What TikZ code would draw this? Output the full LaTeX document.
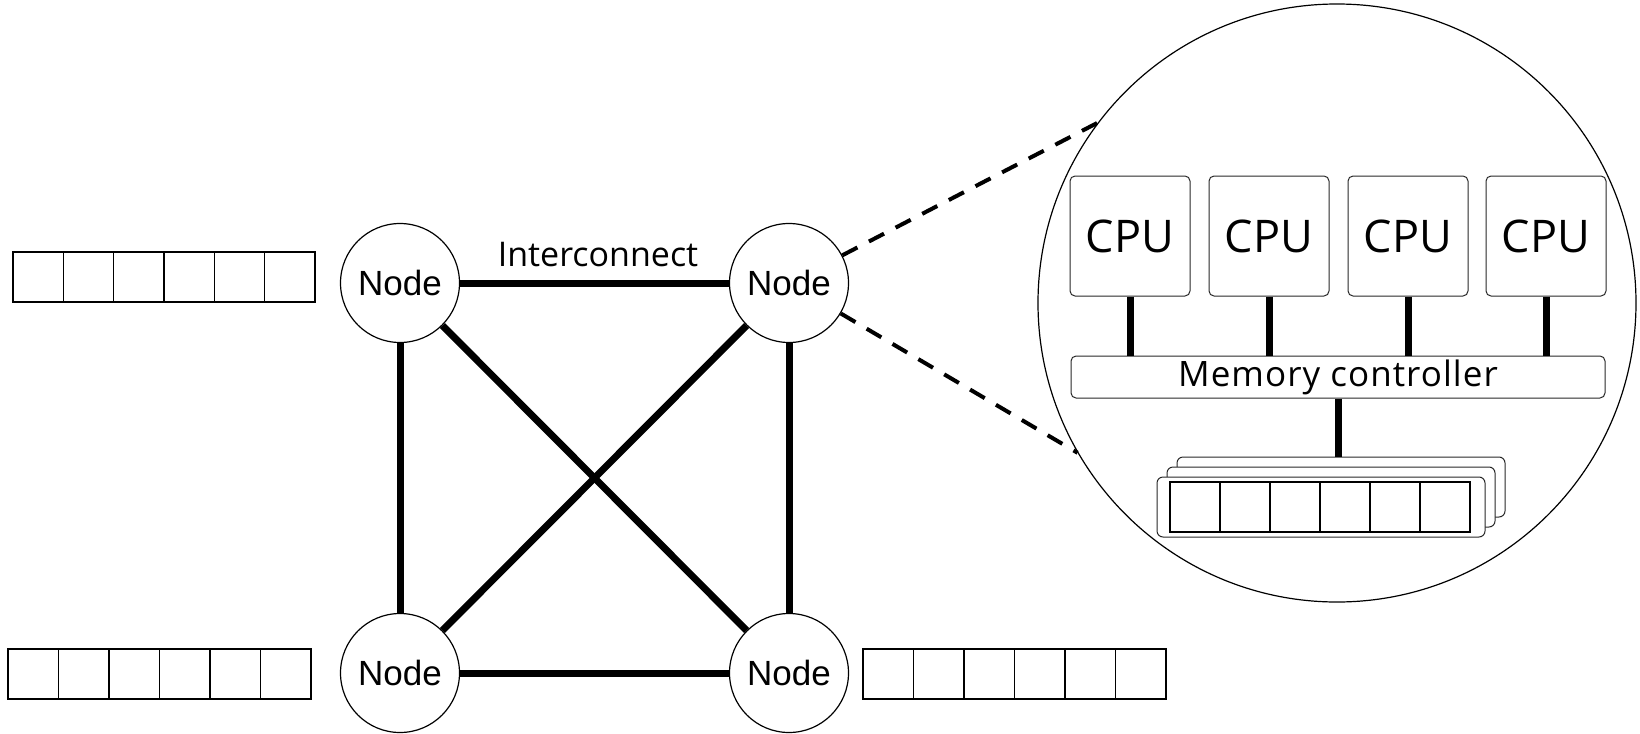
\documentclass[tikz,border=0pt]{standalone}
\usepackage{fontspec}
\setmainfont{Open Sans}
\newfontfamily\nodefont{Liberation Sans}
\usepackage{tikz}
\usetikzlibrary{
  positioning,
  calc
}
\definecolor{inkblack}{RGB}{0,0,0}
\definecolor{boxgray}{RGB}{40,40,40}
\tikzset{
  pcnode/.style={circle,draw=inkblack,line width=0.6pt,minimum size=59.5pt,inner sep=0pt,
    font=\nodefont\fontsize{17.5}{20}\selectfont},
  link/.style={inkblack,line width=3.5pt},
  zoomline/.style={inkblack,line width=2pt,dash pattern=on 8.5pt off 6.5pt},
  cpubox/.style={draw=boxgray,line width=0.5pt,rounded corners=2.5pt,minimum width=60pt,
    minimum height=60pt,inner sep=0pt,font=\fontsize{22.5}{26}\selectfont},
  mcbox/.style={draw=boxgray,line width=0.5pt,rounded corners=2.5pt,minimum width=267pt,
    minimum height=21pt,inner sep=0pt,font=\fontsize{17.5}{20}\selectfont\addfontfeatures{LetterSpace=3}},
  stackbox/.style={draw=boxgray,fill=white,line width=0.5pt,rounded corners=3pt,
    minimum width=164pt,minimum height=30pt,inner sep=0pt},
  cellline/.style={draw=inkblack,line width=0.7pt}
}
\newcommand{\cellrow}[3]{%
  \foreach \k in {0,...,5}{%
    \draw[cellline] (#1+\k*#3,#2) rectangle ++(#3,50);%
  }%
}

\begin{document}
\begin{tikzpicture}[x=0.5pt,y=-0.5pt]
  \useasboundingbox (0,0) rectangle (1640,734);
  \node[pcnode] (nTL) at (400,283) {Node};
  \node[pcnode] (nTR) at (789,283) {Node};
  \node[pcnode] (nBL) at (400,673) {Node};
  \node[pcnode] (nBR) at (789,673) {Node};
  \node[font=\fontsize{17}{20}\selectfont] (ilabel) at (598,255) {Interconnect};
  \draw[link] (nTL) -- (nTR);
  \draw[link] (nBL) -- (nBR);
  \draw[link] (nTL) -- (nBL);
  \draw[link] (nTR) -- (nBR);
  \draw[link] (nTL) -- (nBR);
  \draw[link] (nTR) -- (nBL);
  \cellrow{13}{252}{50.3}
  \cellrow{8}{649}{50.5}
  \cellrow{863}{649}{50.5}
  \node[circle,draw=inkblack,line width=0.6pt,minimum size=299pt,inner sep=0pt] (zoom) at (1337,303) {};
  \draw[zoomline] (nTR) -- (zoom.143.5);
  \draw[zoomline] (nTR) -- (zoom.210);
  \node[cpubox] (cpu1) at (1130,236) {CPU};
  \node[cpubox] (cpu2) at (1269,236) {CPU};
  \node[cpubox] (cpu3) at (1408,236) {CPU};
  \node[cpubox] (cpu4) at (1546,236) {CPU};
  \node[mcbox] (mc) at (1338,377) {Memory controller};
  \foreach \c in {cpu1,cpu2,cpu3,cpu4}
    \draw[link] (\c.south) -- (\c.south |- mc.north);
  \node[stackbox] (mem3) at (1341,487) {};
  \node[stackbox] (mem2) at (1331,497) {};
  \node[stackbox] (mem1) at (1321,507) {};
  \cellrow{1170}{482}{50}
  \draw[link] (mc.south) -- (mc.south |- mem3.north);
\end{tikzpicture}
\end{document}
